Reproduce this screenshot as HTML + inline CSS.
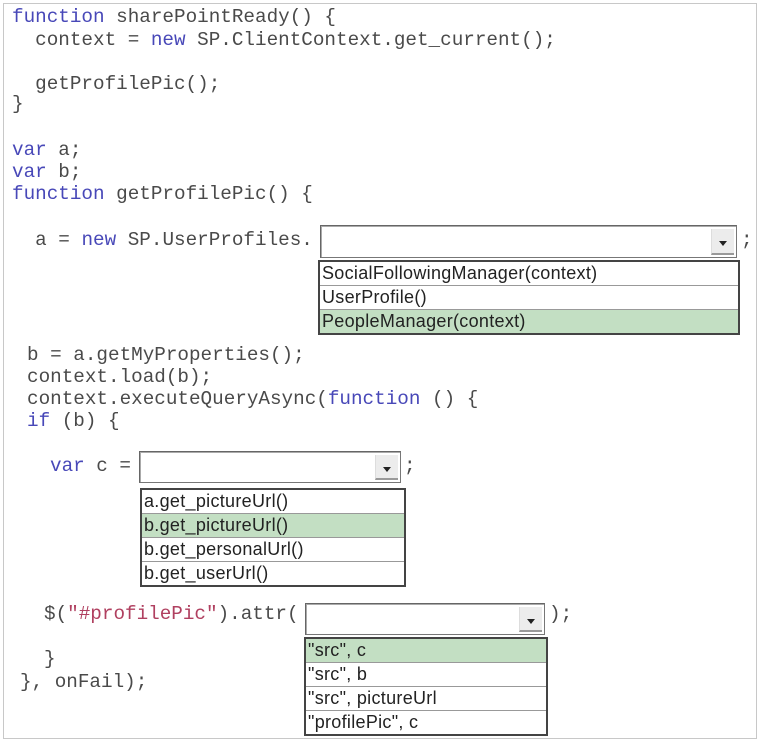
<!DOCTYPE html>
<html><head><meta charset="utf-8"><style>
body{margin:0;width:760px;height:742px;background:#fff;position:relative;overflow:hidden}
.frame{position:absolute;left:3px;top:3px;width:752px;height:734px;border:1px solid #c8c8c8}
.c{position:absolute;font-family:"Liberation Mono",monospace;font-size:19.3px;color:#4a4a4a;white-space:pre;line-height:22px}
.k{color:#4848b8}
.s{color:#b04060}
.dd{position:absolute;border:1px solid #777;border-top-color:#666;border-left-color:#666;background:#fff;box-shadow:inset 1px 1px 0 #aaa}
.btn{position:absolute;right:2px;top:3px;bottom:2px;width:22px;background:#ececec;border-left:1px solid #ddd;border-bottom:2px solid #999}
.btn:after{content:"";position:absolute;left:7px;top:12px;border-left:4px solid transparent;border-right:4px solid transparent;border-top:5px solid #222}
.list{position:absolute;border:2px solid #444;background:#fff}
.row{height:23px;border-bottom:1px solid #999;font-family:"Liberation Sans",sans-serif;font-size:18px;color:#222;line-height:23px;padding-left:2px;letter-spacing:0.3px;white-space:nowrap}
.row:last-child{border-bottom:none}
.g{background:#c3dfc3}
</style></head><body>
<div class="frame"></div>
<div class="c" style="left:12px;top:6px"><span class="k">function</span> sharePointReady() {</div>
<div class="c" style="left:12px;top:29px">  context = <span class="k">new</span> SP.ClientContext.get_current();</div>
<div class="c" style="left:12px;top:73px">  getProfilePic();</div>
<div class="c" style="left:12px;top:93px">}</div>
<div class="c" style="left:12px;top:139px"><span class="k">var</span> a;</div>
<div class="c" style="left:12px;top:161px"><span class="k">var</span> b;</div>
<div class="c" style="left:12px;top:183px"><span class="k">function</span> getProfilePic() {</div>
<div class="c" style="left:12px;top:229px">  a = <span class="k">new</span> SP.UserProfiles.</div>
<div class="dd" style="left:320px;top:225px;width:415px;height:31px"><div class="btn"></div></div>
<div class="c" style="left:741px;top:229px">;</div>
<div class="list" style="left:318px;top:260px;width:418px"><div class="row">SocialFollowingManager(context)</div><div class="row">UserProfile()</div><div class="row g">PeopleManager(context)</div></div>
<div class="c" style="left:27px;top:344px">b = a.getMyProperties();</div>
<div class="c" style="left:27px;top:366px">context.load(b);</div>
<div class="c" style="left:27px;top:388px">context.executeQueryAsync(<span class="k">function</span> () {</div>
<div class="c" style="left:27px;top:410px"><span class="k">if</span> (b) {</div>
<div class="c" style="left:50px;top:455px"><span class="k">var</span> c =</div>
<div class="dd" style="left:139px;top:451px;width:260px;height:30px"><div class="btn"></div></div>
<div class="c" style="left:404px;top:455px">;</div>
<div class="list" style="left:140px;top:488px;width:262px"><div class="row">a.get_pictureUrl()</div><div class="row g">b.get_pictureUrl()</div><div class="row">b.get_personalUrl()</div><div class="row">b.get_userUrl()</div></div>
<div class="c" style="left:44px;top:603px">$(<span class="s">"#profilePic"</span>).attr(</div>
<div class="dd" style="left:305px;top:603px;width:238px;height:30px"><div class="btn"></div></div>
<div class="c" style="left:549px;top:603px">);</div>
<div class="list" style="left:304px;top:637px;width:240px"><div class="row g">"src", c</div><div class="row">"src", b</div><div class="row">"src", pictureUrl</div><div class="row">"profilePic", c</div></div>
<div class="c" style="left:44px;top:648px">}</div>
<div class="c" style="left:20px;top:671px">}, onFail);</div>
</body></html>
